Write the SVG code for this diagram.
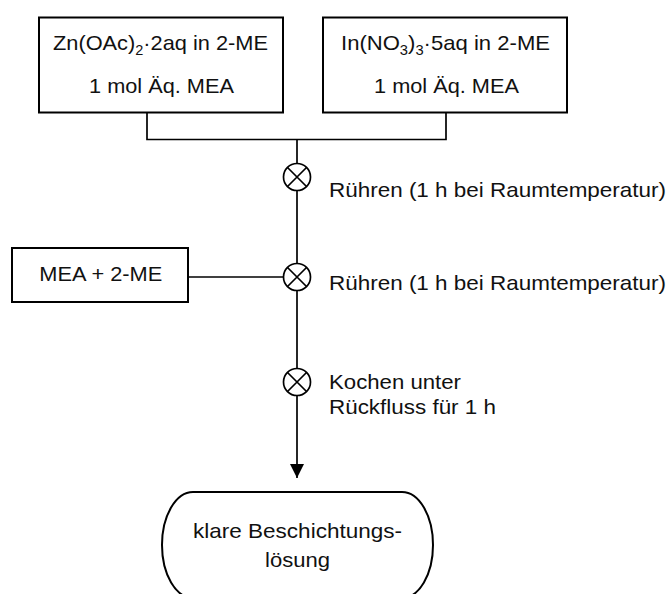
<svg xmlns="http://www.w3.org/2000/svg" width="672" height="594" viewBox="0 0 672 594">
<style>
.box{fill:#fff;stroke:#000;stroke-width:2}
.ln{fill:none;stroke:#000;stroke-width:1.7}
.mix{fill:#fff;stroke:#000;stroke-width:1.7}
.t{font-family:"Liberation Sans",Arial,sans-serif;font-size:21px;fill:#111}
.c{text-anchor:middle}
.sub{font-size:14px}
</style>
<defs>
<marker id="arr" viewBox="0 0 14 14" refX="14" refY="7" markerWidth="14" markerHeight="14" markerUnits="userSpaceOnUse" orient="auto">
<path d="M0,0 L14,7 L0,14 Z" fill="#000"/>
</marker>
<g id="mixer">
<circle cx="0" cy="0" r="13.5" class="mix"/>
<path d="M-9.5,-9.5 L9.5,9.5 M-9.5,9.5 L9.5,-9.5" class="ln"/>
</g>
</defs>
<g id="connectors">
<path class="ln" d="M147,113 V139.5 H446 V113"/>
<path class="ln" d="M297,139.5 V478" marker-end="url(#arr)"/>
<path class="ln" d="M188,277 H284"/>
</g>
<g id="zn">
<rect class="box" x="39" y="17.5" width="244" height="95"/>
<text class="t" x="53" y="50" textLength="215" lengthAdjust="spacingAndGlyphs">Zn(OAc)<tspan class="sub" dy="5">2</tspan><tspan dy="-5">·2aq in 2-ME</tspan></text>
<text class="t c" x="161.5" y="93" textLength="145" lengthAdjust="spacingAndGlyphs">1 mol Äq. MEA</text>
</g>
<g id="in">
<rect class="box" x="323" y="17.5" width="244" height="95"/>
<text class="t" x="341" y="50" textLength="209" lengthAdjust="spacingAndGlyphs">In(NO<tspan class="sub" dy="5">3</tspan><tspan dy="-5">)</tspan><tspan class="sub" dy="5">3</tspan><tspan dy="-5">·5aq in 2-ME</tspan></text>
<text class="t c" x="446.5" y="93" textLength="145" lengthAdjust="spacingAndGlyphs">1 mol Äq. MEA</text>
</g>
<g id="mea">
<rect class="box" x="12" y="248" width="176" height="54"/>
<text class="t c" x="100.8" y="281" textLength="123" lengthAdjust="spacingAndGlyphs">MEA + 2-ME</text>
</g>
<g id="step1">
<use href="#mixer" x="297" y="177"/>
<text class="t" x="329" y="197" textLength="337" lengthAdjust="spacingAndGlyphs">Rühren (1 h bei Raumtemperatur)</text>
</g>
<g id="step2">
<use href="#mixer" x="297" y="277"/>
<text class="t" x="329" y="290" textLength="337" lengthAdjust="spacingAndGlyphs">Rühren (1 h bei Raumtemperatur)</text>
</g>
<g id="step3">
<use href="#mixer" x="297" y="382"/>
<text class="t" x="329" y="389" textLength="132" lengthAdjust="spacingAndGlyphs">Kochen unter</text>
<text class="t" x="329" y="414" textLength="167" lengthAdjust="spacingAndGlyphs">Rückfluss für 1 h</text>
</g>
<g id="product">
<rect class="box" x="162" y="492" width="271" height="106" rx="31" ry="53"/>
<text class="t c" x="297.5" y="538" textLength="209" lengthAdjust="spacingAndGlyphs">klare Beschichtungs-</text>
<text class="t c" x="297.5" y="567" textLength="65" lengthAdjust="spacingAndGlyphs">lösung</text>
</g>
</svg>
